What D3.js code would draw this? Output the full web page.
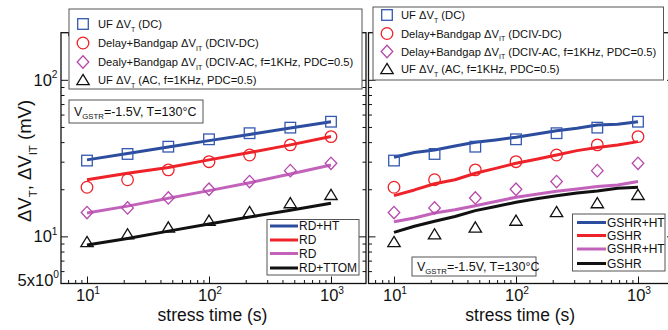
<!DOCTYPE html>
<html>
<head>
<meta charset="utf-8">
<script src="https://cdn.jsdelivr.net/npm/d3@7"></script>
<style>
  body { margin: 0; background: #fff; }
  svg { display: block; font-family: "Liberation Sans", Arial, Helvetica, sans-serif; }
</style>
</head>
<body>
<div id="chart"></div>
<script>
// stress times (s)
const times = [10, 21.5, 46.4, 100, 215, 464, 1000];

// measured data (mV), same in both panels
const ufDC = [30.5, 33.6, 37.4, 41.7, 45.6, 49.5, 54];
const dcivDC = [20.6, 23, 26.6, 30, 33.1, 38.4, 43.4];
const dcivAC = [14.2, 15.2, 17.6, 20, 22.4, 26.3, 29.3];
const ufAC = [9.2, 10.3, 11.4, 12.6, 14.3, 16.3, 18.4];

// left panel: RD model curves
const rdHT = [30.8, 33.8, 37.2, 40.9, 44.8, 49.3, 54];
const rd = [23, 25.3, 27.5, 30.8, 34.3, 38.4, 43.5];
const rdAC = [14.1, 15.6, 17.5, 19.6, 22, 25, 28.6];
const rdTTOM = [8.8, 9.7, 10.8, 12.0, 13.3, 14.7, 16.3];

// right panel: GSHR model curves
const gTimes = [10, 14.7, 21.5, 31.6, 46.4, 68.1, 100, 147, 215, 316, 464, 681, 1000];
const gshrHT = [32.0, 34.3, 35.6, 37.8, 39.9, 41.3, 43.0, 45.1, 47.3, 49.0, 51.4, 52.0, 54.0];
const gshr = [18.2, 19.8, 21.7, 23.0, 25.3, 27.2, 29.3, 31.1, 33.1, 35.3, 36.9, 38.4, 40.3];
const gshrHTac = [12.4, 13.1, 14.1, 14.8, 15.7, 16.7, 17.8, 18.6, 19.4, 20.1, 20.8, 21.3, 22.4];
const gshrAC = [10.6, 11.6, 12.5, 13.4, 14.6, 15.5, 16.5, 17.4, 18.2, 18.9, 19.5, 20.3, 20.6];

// ticks
const xMajor = [10, 100, 1000];
const xMinor = [7, 8, 9, 20, 30, 40, 50, 60, 70, 80, 90, 200, 300, 400, 500, 600, 700, 800, 900];
const xTickText = [['10', '1'], ['10', '2'], ['10', '3']];
const yMajor = [10, 100];
const yMinor = [6, 7, 8, 9, 20, 30, 40, 50, 60, 70, 80, 90];
const yTickVals = [5, 10, 100];
const yTickText = [['5x10', '0'], ['10', '1'], ['10', '2']];

// legend texts
const leftLegend = [
  [['UF ΔV'], ['T', 'sub'], [' (DC)']],
  [['Delay+Bandgap ΔV'], ['IT', 'sub'], [' (DCIV-DC)']],
  [['Dealy+Bandgap ΔV'], ['IT', 'sub'], [' (DCIV-AC, f=1KHz, PDC=0.5)']],
  [['UF ΔV'], ['T', 'sub'], ['  (AC, f=1KHz, PDC=0.5)']]
];
const rightLegend = [
  [['UF ΔV'], ['T', 'sub'], [' (DC)']],
  [['Delay+Bandgap ΔV'], ['IT', 'sub'], [' (DCIV-DC)']],
  [['Delay+Bandgap ΔV'], ['IT', 'sub'], [' (DCIV-AC, f=1KHz, PDC=0.5)']],
  [['UF ΔV'], ['T', 'sub'], [' (AC, f=1KHz, PDC=0.5)']]
];
const leftModelNames = ['RD+HT', 'RD', 'RD', 'RD+TTOM'];
const rightModelNames = ['GSHR+HT', 'GSHR', 'GSHR+HT', 'GSHR'];
const condition = [['V'], ['GSTR', 'sub'], ['=-1.5V, T=130°C']];

const blue = '#2c4c9e', red = '#ee2229', purple = '#c262bb', black = '#111';
const markBlue = '#3558b0', markPurple = '#b54aad';
const seriesColors = [blue, red, purple, black];

const W = 668, H = 330;
const yTop = 32.7, yBottom = 283.5;

const svg = d3.select('#chart').append('svg')
    .attr('width', W)
    .attr('height', H);

const y = d3.scaleLog().domain([5, 200]).range([yBottom, yTop]);

// text with sub/superscripts
function richText(sel, x, yy, parts, size) {
    const t = sel.append('text').attr('x', x).attr('y', yy).attr('font-size', size).attr('fill', '#111');
    let shift = 0;
    parts.forEach(function (p) {
        const kind = p[1];
        const target = kind === 'sub' ? size * 0.3 : kind === 'sup' ? -size * 0.45 : 0;
        t.append('tspan')
            .attr('dy', target - shift)
            .attr('font-size', kind ? size * 0.62 : size)
            .text(p[0]);
        shift = target;
    });
    return t;
}

// markers
function marker(sel, kind, cx, cy) {
    if (kind === 'square') {
        sel.append('rect').attr('x', cx - 5.3).attr('y', cy - 5.3).attr('width', 10.6).attr('height', 10.6)
            .attr('fill', 'none').attr('stroke', markBlue).attr('stroke-width', 1.3);
    } else if (kind === 'circle') {
        sel.append('circle').attr('cx', cx).attr('cy', cy).attr('r', 5.8)
            .attr('fill', 'none').attr('stroke', red).attr('stroke-width', 1.3);
    } else if (kind === 'diamond') {
        sel.append('path').attr('d', `M${cx},${cy - 6.2}L${cx + 5.8},${cy}L${cx},${cy + 6.2}L${cx - 5.8},${cy}Z`)
            .attr('fill', 'none').attr('stroke', markPurple).attr('stroke-width', 1.3);
    } else {
        sel.append('path').attr('d', `M${cx},${cy - 5.6}L${cx + 6.2},${cy + 4.6}L${cx - 6.2},${cy + 4.6}Z`)
            .attr('fill', 'none').attr('stroke', black).attr('stroke-width', 1.3);
    }
}
const kinds = ['square', 'circle', 'diamond', 'triangle'];
const measured = [ufDC, dcivDC, dcivAC, ufAC];

function drawPanel(p) {
    const x = d3.scaleLog().domain([10, 1000]).range([p.x10, p.x10 + 244]);
    const g = svg.append('g');

    const noDomain = s => s.select('.domain').remove();

    // inward ticks on all four sides
    g.append('g').attr('transform', `translate(0,${yBottom})`)
        .call(d3.axisBottom(x).tickValues(xMinor).tickSize(-3.5).tickFormat('')).call(noDomain);
    g.append('g').attr('transform', `translate(0,${yBottom})`)
        .call(d3.axisBottom(x).tickValues(xMajor).tickSize(-7).tickFormat('')).call(noDomain);
    g.append('g').attr('transform', `translate(0,${yTop})`)
        .call(d3.axisTop(x).tickValues(xMinor).tickSize(-3.5).tickFormat('')).call(noDomain);
    g.append('g').attr('transform', `translate(0,${yTop})`)
        .call(d3.axisTop(x).tickValues(xMajor).tickSize(-7).tickFormat('')).call(noDomain);
    g.append('g').attr('transform', `translate(${p.x0},0)`)
        .call(d3.axisLeft(y).tickValues(yMinor).tickSize(-3.5).tickFormat('')).call(noDomain);
    g.append('g').attr('transform', `translate(${p.x0},0)`)
        .call(d3.axisLeft(y).tickValues(yMajor).tickSize(-7).tickFormat('')).call(noDomain);
    g.append('g').attr('transform', `translate(${p.x1},0)`)
        .call(d3.axisRight(y).tickValues(yMinor).tickSize(-3.5).tickFormat('')).call(noDomain);
    g.append('g').attr('transform', `translate(${p.x1},0)`)
        .call(d3.axisRight(y).tickValues(yMajor).tickSize(-7).tickFormat('')).call(noDomain);
    g.selectAll('.tick line').attr('stroke', '#111').attr('stroke-width', 1);

    g.append('rect')
        .attr('x', p.x0).attr('y', yTop)
        .attr('width', p.x1 - p.x0).attr('height', yBottom - yTop)
        .attr('fill', 'none').attr('stroke', '#111').attr('stroke-width', 1.3);

    // x tick labels
    xMajor.forEach(function (v, i) {
        richText(g, x(v) + 1, 301, [[xTickText[i][0]], [xTickText[i][1], 'sup']], 16.5)
            .attr('text-anchor', 'middle');
    });
    richText(g, (p.x0 + p.x1) / 2 + p.labelDx, 321, [['stress time (s)']], 17.5).attr('text-anchor', 'middle');

    // model curves
    const line = d3.line()
        .x(d => x(d[0]))
        .y(d => y(d[1]));
    p.curves.forEach(function (c, i) {
        g.append('path')
            .datum(p.curveTimes.map((t, j) => [t, c[j]]))
            .attr('d', line)
            .attr('fill', 'none')
            .attr('stroke', seriesColors[i])
            .attr('stroke-width', 3)
            .attr('stroke-linejoin', 'round');
    });

    // measured points
    measured.forEach(function (s, i) {
        s.forEach(function (v, j) {
            marker(g, kinds[i], x(times[j]), y(v));
        });
    });

    // symbol legend
    const lg = svg.append('g');
    lg.append('rect').attr('x', p.leg.x).attr('y', p.leg.y).attr('width', p.leg.w).attr('height', p.leg.h)
        .attr('fill', '#fff').attr('stroke', '#555').attr('stroke-width', 1);
    p.legend.forEach(function (parts, i) {
        const cy = p.leg.rows[i];
        marker(lg, kinds[i], p.leg.sx, cy);
        richText(lg, p.leg.tx, cy + 4.2, parts, 11.2);
    });

    // model legend
    const mg = svg.append('g');
    mg.append('rect').attr('x', p.mleg.x).attr('y', p.mleg.y).attr('width', p.mleg.w).attr('height', p.mleg.h)
        .attr('fill', '#fff').attr('stroke', '#555').attr('stroke-width', 1);
    p.modelNames.forEach(function (name, i) {
        const cy = p.mleg.rows[i];
        mg.append('line').attr('x1', p.mleg.lx0).attr('x2', p.mleg.lx1).attr('y1', cy).attr('y2', cy)
            .attr('stroke', seriesColors[i]).attr('stroke-width', 3);
        richText(mg, p.mleg.lx1 + 1, cy + 4.2, [[name]], 12);
    });

    // condition box
    const cg = svg.append('g');
    cg.append('rect').attr('x', p.cond.x).attr('y', p.cond.y).attr('width', p.cond.w).attr('height', p.cond.h)
        .attr('fill', '#fff').attr('stroke', '#555').attr('stroke-width', 1);
    richText(cg, p.cond.x + 5, p.cond.y + p.cond.h / 2 + 4, condition, 12.5);
}

drawPanel({
    x0: 61, x1: 366, x10: 87, labelDx: -1,
    curveTimes: times,
    curves: [rdHT, rd, rdAC, rdTTOM],
    legend: leftLegend,
    leg: {x: 69, y: 9, w: 293, h: 80, sx: 83, tx: 98, rows: [24, 43, 62, 80]},
    modelNames: leftModelNames,
    mleg: {x: 267, y: 219.5, w: 92, h: 55.5, lx0: 270, lx1: 298, rows: [226, 240, 253.5, 268]},
    cond: {x: 69, y: 100, w: 134, h: 23}
});

drawPanel({
    x0: 368.5, x1: 674, x10: 394, labelDx: -1,
    curveTimes: gTimes,
    curves: [gshrHT, gshr, gshrHTac, gshrAC],
    legend: rightLegend,
    leg: {x: 373, y: 7, w: 290.5, h: 73, sx: 387, tx: 401, rows: [15, 33.5, 51.5, 69]},
    modelNames: rightModelNames,
    mleg: {x: 572.5, y: 214, w: 92.5, h: 57, lx0: 577, lx1: 606, rows: [222.5, 235.5, 249, 263.5]},
    cond: {x: 412, y: 257, w: 124, h: 19}
});

// y tick labels (left panel only)
yTickVals.forEach(function (v, i) {
    const yy = v === 5 ? y(v) - 4 : y(v);
    richText(svg, v === 5 ? 59 : 57.5, yy + 6, [[yTickText[i][0]], [yTickText[i][1], 'sup']], 16.5)
        .attr('text-anchor', 'end');
});

// y axis title
richText(svg.append('g').attr('transform', 'translate(31,161) rotate(-90)'), 0, 0,
    [['ΔV'], ['T', 'sub'], [', ΔV'], ['IT', 'sub'], [' (mV)']], 18.5)
    .attr('text-anchor', 'middle');
</script>
</body>
</html>
